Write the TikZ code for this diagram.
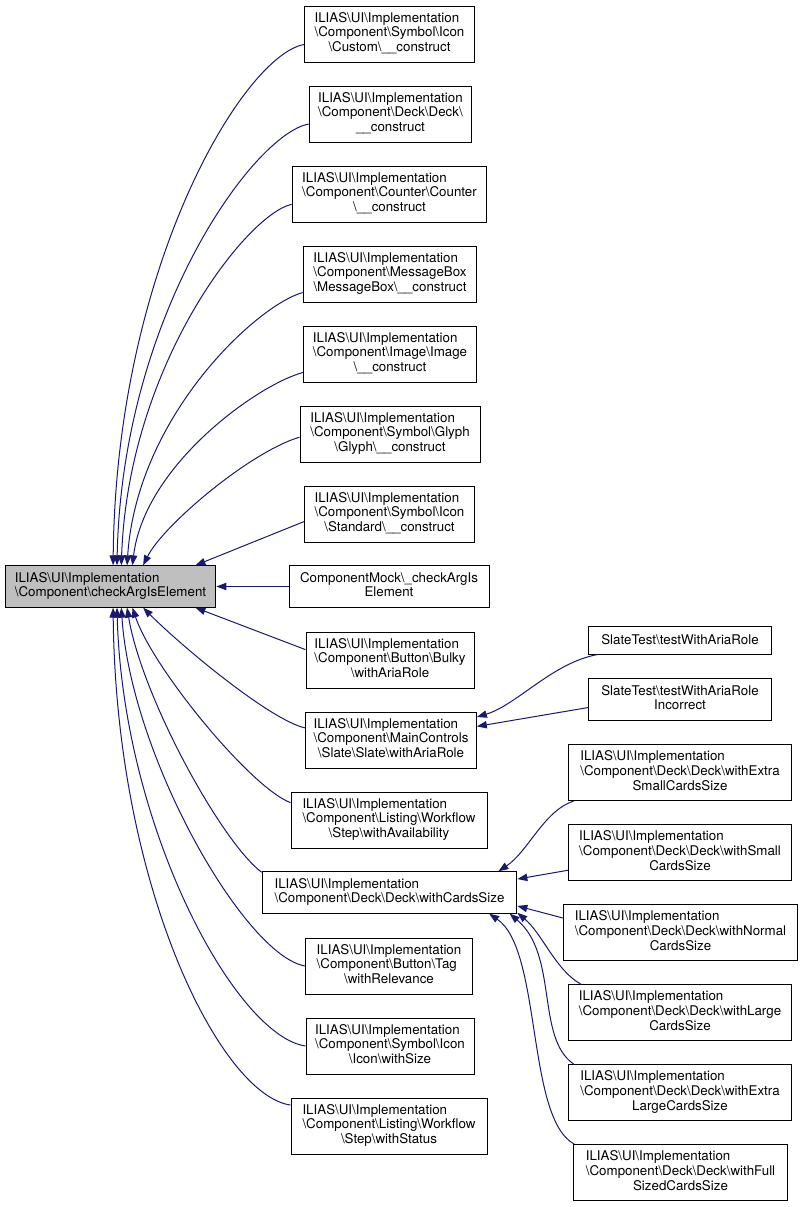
\documentclass[tikz,border=0pt]{standalone}
\usepackage{fontspec}
\setmainfont{TeX Gyre Heros}
\usetikzlibrary{arrows.meta}

\definecolor{edgeblue}{HTML}{191970}
\definecolor{rootgray}{HTML}{BFBFBF}
\newcommand{\bs}{\textbackslash}
% first lines left, last line centred
\newcommand{\lbl}[2]{\begin{tabular}{@{}l@{}}#1\\\multicolumn{1}{@{}c@{}}{#2}\end{tabular}}

\begin{document}
\begin{tikzpicture}[x=0.75pt,y=-0.75pt,
  box/.style={draw=black, fill=white, line width=0.75pt,
    font=\fontsize{10}{11}\selectfont, inner xsep=3pt, inner ysep=4.5pt},
  callline/.style={draw=edgeblue, line width=0.75pt,
    -{Triangle[length=7.5pt,width=5.5pt]}}]
  \useasboundingbox (0,0) rectangle (803,1207);

  % The function itself
  \node[box, fill=rootgray, minimum width=158pt] (root) at (110.5,586.5)
    {\lbl{ILIAS\bs UI\bs Implementation}{\bs Component\bs checkArgIsElement}};

  % Direct callers
  \node[box, minimum width=127pt] (custom) at (389.5,34)
    {\lbl{ILIAS\bs UI\bs Implementation\\\bs Component\bs Symbol\bs Icon}{\bs Custom\bs\_\_construct}};
  \node[box, minimum width=122pt] (deckc) at (390.5,114)
    {\lbl{ILIAS\bs UI\bs Implementation\\\bs Component\bs Deck\bs Deck\bs}{\_\_construct}};
  \node[box, minimum width=146pt] (counter) at (389.5,194)
    {\lbl{ILIAS\bs UI\bs Implementation\\\bs Component\bs Counter\bs Counter}{\bs\_\_construct}};
  \node[box, minimum width=130pt] (msgbox) at (390,274)
    {\lbl{ILIAS\bs UI\bs Implementation\\\bs Component\bs MessageBox}{\bs MessageBox\bs\_\_construct}};
  \node[box, minimum width=130pt] (image) at (390,354)
    {\lbl{ILIAS\bs UI\bs Implementation\\\bs Component\bs Image\bs Image}{\bs\_\_construct}};
  \node[box, minimum width=135pt] (glyph) at (390,434)
    {\lbl{ILIAS\bs UI\bs Implementation\\\bs Component\bs Symbol\bs Glyph}{\bs Glyph\bs\_\_construct}};
  \node[box, minimum width=127pt] (standard) at (389.5,514)
    {\lbl{ILIAS\bs UI\bs Implementation\\\bs Component\bs Symbol\bs Icon}{\bs Standard\bs\_\_construct}};
  \node[box, minimum width=150pt] (mock) at (389,586.5)
    {\lbl{ComponentMock\bs\_checkArgIs}{Element}};
  \node[box, minimum width=126pt] (bulky) at (390,660)
    {\lbl{ILIAS\bs UI\bs Implementation\\\bs Component\bs Button\bs Bulky}{\bs withAriaRole}};
  \node[box, minimum width=128pt] (slate) at (391,740)
    {\lbl{ILIAS\bs UI\bs Implementation\\\bs Component\bs MainControls}{\bs Slate\bs Slate\bs withAriaRole}};
  \node[box, minimum width=147pt] (avail) at (389,820)
    {\lbl{ILIAS\bs UI\bs Implementation\\\bs Component\bs Listing\bs Workflow}{\bs Step\bs withAvailability}};
  \node[box, minimum width=191pt] (cards) at (389.5,892.5)
    {\lbl{ILIAS\bs UI\bs Implementation}{\bs Component\bs Deck\bs Deck\bs withCardsSize}};
  \node[box, minimum width=125pt] (tag) at (389,966)
    {\lbl{ILIAS\bs UI\bs Implementation\\\bs Component\bs Button\bs Tag}{\bs withRelevance}};
  \node[box, minimum width=126pt] (iconsize) at (390,1046)
    {\lbl{ILIAS\bs UI\bs Implementation\\\bs Component\bs Symbol\bs Icon}{\bs Icon\bs withSize}};
  \node[box, minimum width=147pt] (status) at (389,1126)
    {\lbl{ILIAS\bs UI\bs Implementation\\\bs Component\bs Listing\bs Workflow}{\bs Step\bs withStatus}};

  % Second level: callers of withAriaRole and withCardsSize
  \node[box, minimum width=137pt, minimum height=21pt] (t1) at (680,640)
    {SlateTest\bs testWithAriaRole};
  \node[box, minimum width=137pt] (t2) at (680,699.5)
    {\lbl{SlateTest\bs testWithAriaRole}{Incorrect}};
  \node[box, minimum width=167pt] (d1) at (680,772.5)
    {\lbl{ILIAS\bs UI\bs Implementation\\\bs Component\bs Deck\bs Deck\bs withExtra}{SmallCardsSize}};
  \node[box, minimum width=167pt] (d2) at (680,852.5)
    {\lbl{ILIAS\bs UI\bs Implementation\\\bs Component\bs Deck\bs Deck\bs withSmall}{CardsSize}};
  \node[box, minimum width=175pt] (d3) at (680.5,932.5)
    {\lbl{ILIAS\bs UI\bs Implementation\\\bs Component\bs Deck\bs Deck\bs withNormal}{CardsSize}};
  \node[box, minimum width=167pt] (d4) at (680,1012.5)
    {\lbl{ILIAS\bs UI\bs Implementation\\\bs Component\bs Deck\bs Deck\bs withLarge}{CardsSize}};
  \node[box, minimum width=167pt] (d5) at (680,1092.5)
    {\lbl{ILIAS\bs UI\bs Implementation\\\bs Component\bs Deck\bs Deck\bs withExtra}{LargeCardsSize}};
  \node[box, minimum width=161pt] (d6) at (680.5,1172.5)
    {\lbl{ILIAS\bs UI\bs Implementation\\\bs Component\bs Deck\bs Deck\bs withFull}{SizedCardsSize}};

  % Calls arriving on top of the root box
  \draw[callline] (custom.187) .. controls +(-60,10) and +(3,-300) .. (root.83);
  \draw[callline] (deckc.187) .. controls +(-55,10) and +(5,-250) .. (root.73);
  \draw[callline] (counter.186) .. controls +(-45,10) and +(7,-200) .. (root.63);
  \draw[callline] (msgbox.192) .. controls +(-45,12) and +(10,-150) .. (root.52);
  \draw[callline] (image.192) .. controls +(-45,12) and +(12,-100) .. (root.44);
  \draw[callline] (glyph.182) .. controls +(-50,15) and +(20,-40) .. (root.33);
  \draw[callline] (standard.185) -- (root.14);
  \draw[callline] (mock.west) -- (root.east);
  % Calls arriving below the root box
  \draw[callline] (bulky.173) -- (root.-14);
  \draw[callline] (slate.172) .. controls +(-35,-8) and +(40,40) .. (root.-33);
  \draw[callline] (avail.170) .. controls +(-40,-15) and +(20,60) .. (root.-44);
  \draw[callline] (cards.171) .. controls +(-40,-30) and +(15,90) .. (root.-52);
  \draw[callline] (tag.west) .. controls +(-60,-10) and +(10,150) .. (root.-63);
  \draw[callline] (iconsize.west) .. controls +(-70,-10) and +(6,220) .. (root.-73);
  \draw[callline] (status.168) .. controls +(-70,-10) and +(3,280) .. (root.-83);

  % Second level calls
  \draw[callline] (t1.190) .. controls +(-45,8) and +(40,-12) .. (slate.15);
  \draw[callline] (t2.185) -- (slate.9);
  \draw[callline] (d1.195) .. controls +(-30,10) and +(30,-20) .. (cards.11);
  \draw[callline] (d2.189) -- (cards.6);
  \draw[callline] (d3.173) -- (cards.-6);
  \draw[callline] (d4.164) .. controls +(-25,-14) and +(25,21) .. (cards.-9.7);
  \draw[callline] (d5.165) .. controls +(-38,-26) and +(49,41) .. (cards.-10.8);
  \draw[callline] (d6.165) .. controls +(-48,-26) and +(53,36) .. (cards.-12);
\end{tikzpicture}
\end{document}
